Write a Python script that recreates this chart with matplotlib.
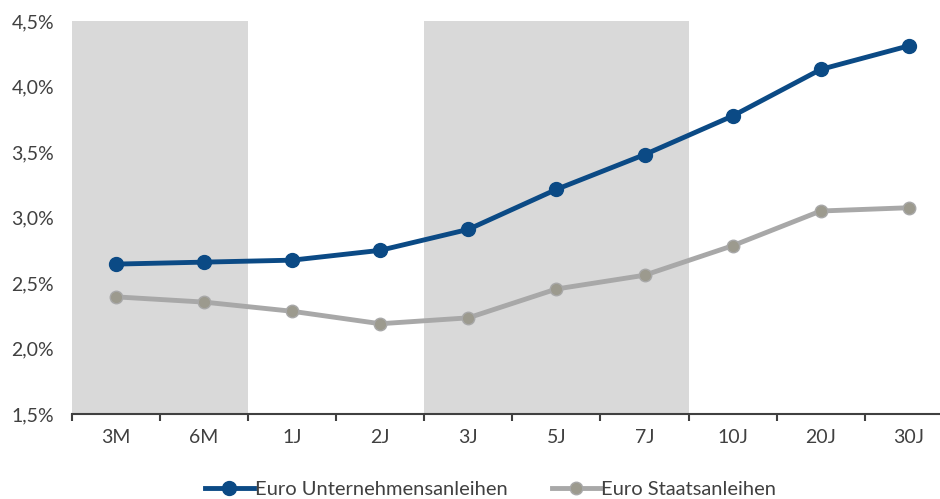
import matplotlib.pyplot as plt
import numpy as np
from matplotlib.ticker import FuncFormatter

# --------------------------------
# DATA
# --------------------------------
laufzeiten = ["3M", "6M", "1J", "2J", "3J", "5J", "7J", "10J", "20J", "30J"]
unternehmen = [2.645, 2.66, 2.675, 2.75, 2.91, 3.215, 3.48, 3.775, 4.13, 4.31]
staat = [2.395, 2.355, 2.285, 2.19, 2.235, 2.455, 2.56, 2.785, 3.05, 3.075]
shade_ranges = [(-0.5, 1.5), (3.5, 6.5)]

blue = "#0b4a85"
grey_line = "#a8a8a8"
grey_marker = "#9c9a8e"
txt = "#404040"

plt.rcParams['font.family'] = ['Lato', 'DejaVu Sans']

fig = plt.figure(figsize=(9.40, 4.99), dpi=100)
ax = fig.add_axes([0.0766, 0.170, 0.937, 0.788])

x = np.arange(len(laufzeiten))

# grey background bands
for lo, hi in shade_ranges:
    ax.axvspan(lo, hi, color="#d9d9d9", lw=0, zorder=0)

ax.plot(x, unternehmen, color=blue, lw=3.5, marker="o", ms=10,
        label="Euro Unternehmensanleihen", zorder=3)
ax.plot(x, staat, color=grey_line, lw=3.5, marker="o", ms=9,
        mfc=grey_marker, mec=grey_line, label="Euro Staatsanleihen", zorder=2)

ax.set_xlim(-0.5, len(laufzeiten) - 0.5)
ax.set_ylim(1.5, 4.5)
ax.set_yticks(np.arange(1.5, 4.51, 0.5))
ax.yaxis.set_major_formatter(FuncFormatter(lambda v, p: f"{v:.1f}%".replace(".", ",")))
ax.set_xticks(x)
ax.set_xticklabels(laufzeiten)
ax.set_xticks(np.arange(-0.5, len(laufzeiten), 1), minor=True)

for s in ["top", "right", "left"]:
    ax.spines[s].set_visible(False)
ax.spines["bottom"].set_color(txt)
ax.spines["bottom"].set_linewidth(1.5)
ax.tick_params(axis="y", length=0, labelsize=14, colors=txt, pad=13)
ax.tick_params(axis="x", which="major", length=0, labelsize=14, colors=txt, pad=11)
ax.tick_params(axis="x", which="minor", length=5, width=1.5, color=txt, direction="out")

leg = fig.legend(loc="lower center", bbox_to_anchor=(0.522, -0.035), ncol=2, frameon=False,
                 fontsize=14.5, handlelength=2.4, handletextpad=0.05, columnspacing=2.2)
for t in leg.get_texts():
    t.set_color(txt)

fig.savefig("out.png", dpi=100)
